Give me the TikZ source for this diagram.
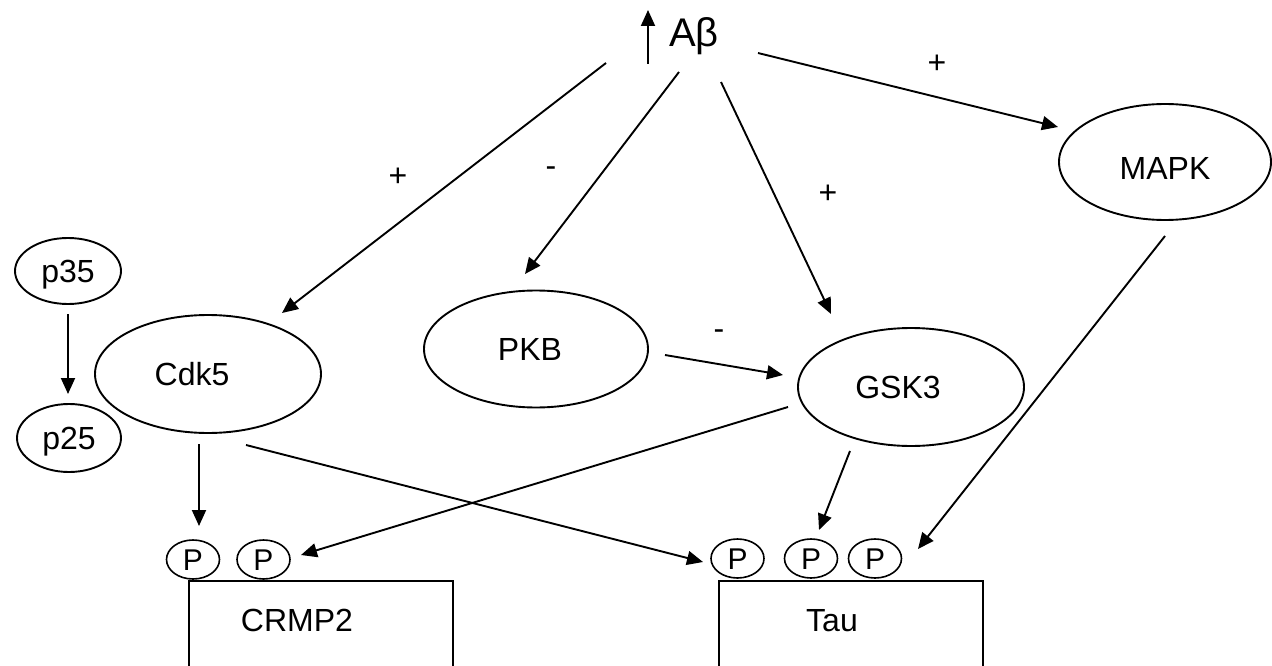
\documentclass[tikz,border=0pt]{standalone}
\usepackage{fontspec}
\setmainfont{Liberation Sans}
\usepackage{tikz}
\usetikzlibrary{shapes.geometric, arrows.meta}

\begin{document}
\begin{tikzpicture}[x=1pt, y=-1pt, line width=1.9pt, >={Triangle[length=16pt, width=14pt]},
  kinase/.style={ellipse, draw, inner sep=0pt, font=\fontsize{32}{38}\selectfont, text height=23pt, text depth=0pt},
  precursor/.style={ellipse, draw, inner sep=0pt, font=\fontsize{32}{38}\selectfont, text height=23pt, text depth=0pt},
  phos/.style={ellipse, draw, line width=1.6pt, inner sep=0pt, minimum width=53pt, minimum height=39pt, font=\fontsize{30}{36}\selectfont, text height=21.5pt, text depth=0pt},
  protein/.style={rectangle, draw, inner sep=0pt, minimum width=264pt, minimum height=110pt},
  lbl/.style={inner sep=0pt, font=\fontsize{32}{38}\selectfont, text height=23pt, text depth=0pt}]

\useasboundingbox (0,0) rectangle (1272,666);
\clip (0,0) rectangle (1272,666);

% Define the kinases and the amyloid source
\node (ab) at (694,32.5) [inner sep=0pt, font=\fontsize{40}{48}\selectfont, text height=29pt, text depth=0pt] {Aβ};
\node (cdk)  at (208,374)  [kinase, minimum width=226pt, minimum height=118pt] {Cdk5\hspace*{32pt}};
\node (pkb)  at (536,349)  [kinase, minimum width=224pt, minimum height=117pt] {PKB\hspace*{12pt}};
\node (gsk)  at (911,387)  [kinase, minimum width=226pt, minimum height=118pt] {GSK3\hspace*{26pt}};
\node (mapk) at (1165,162) [kinase, minimum width=212pt, minimum height=116pt, text height=35pt] {MAPK};

% p35 is cleaved to p25
\node (p35) at (68,271) [precursor, minimum width=106pt, minimum height=66pt] {p35};
\node (p25) at (69,438) [precursor, minimum width=104pt, minimum height=68pt] {p25};

% Substrates with their phosphate groups
\node (crmp) at (321,636) [protein] {};
\node (crmplbl) at (297,619.5) [lbl] {CRMP2};
\node (crmpP1) at (193,559.5) [phos] {P};
\node (crmpP2) at (263.5,559.5) [phos] {P};

\node (tau) at (851,636) [protein] {};
\node (taulbl) at (832,620) [lbl] {Tau};
\node (tauP1) at (737.5,558.5) [phos] {P};
\node (tauP2) at (811,558.5) [phos] {P};
\node (tauP3) at (875,558.5) [phos] {P};

% Free ends of the arrows
\coordinate (upS)   at (648,64);
\coordinate (upE)   at (648,10);
\coordinate (abCdk) at (606,63);
\coordinate (cdkIn) at (282,313);
\coordinate (abPkb) at (679,72);
\coordinate (pkbIn) at (525,274);
\coordinate (abGsk) at (721,82);
\coordinate (gskIn) at (831,314);
\coordinate (abMap) at (758,53);
\coordinate (mapIn) at (1058,127);
\coordinate (p35Out) at (68,314);
\coordinate (p25In)  at (68,394);
\coordinate (cdkOutA) at (199,444);
\coordinate (crmpInA) at (199,526);
\coordinate (cdkOutB) at (246,445);
\coordinate (tauInA)  at (703,562);
\coordinate (pkbOut) at (665,355);
\coordinate (gskInB) at (783,375);
\coordinate (gskOutA) at (788,407);
\coordinate (crmpInB) at (301,555);
\coordinate (gskOutB) at (850,451);
\coordinate (tauInB)  at (819,530);
\coordinate (mapOut) at (1165,236);
\coordinate (tauInC) at (918,549);

% Rising Abeta level
\draw[->] (upS) -- (upE);

% Arrows out of Abeta, with their signs
\draw[->] (abCdk) -- (cdkIn);
\draw[->] (abPkb) -- (pkbIn);
\draw[->] (abGsk) -- (gskIn);
\draw[->] (abMap) -- (mapIn);
\node (sgnCdk) at (398,175) [lbl] {+};
\node (sgnPkb) at (551,165) [lbl] {-};
\node (sgnGsk) at (828,192) [lbl] {+};
\node (sgnMap) at (937,62)  [lbl] {+};

% PKB inhibits GSK3
\draw[->] (pkbOut) -- (gskInB);
\node (sgnPG) at (719,328) [lbl] {-};

% Phosphorylation arrows
\draw[->] (p35Out) -- (p25In);
\draw[->] (cdkOutA) -- (crmpInA);
\draw[->] (cdkOutB) -- (tauInA);
\draw[->] (gskOutA) -- (crmpInB);
\draw[->] (gskOutB) -- (tauInB);
\draw[->] (mapOut) -- (tauInC);

\end{tikzpicture}
\end{document}
